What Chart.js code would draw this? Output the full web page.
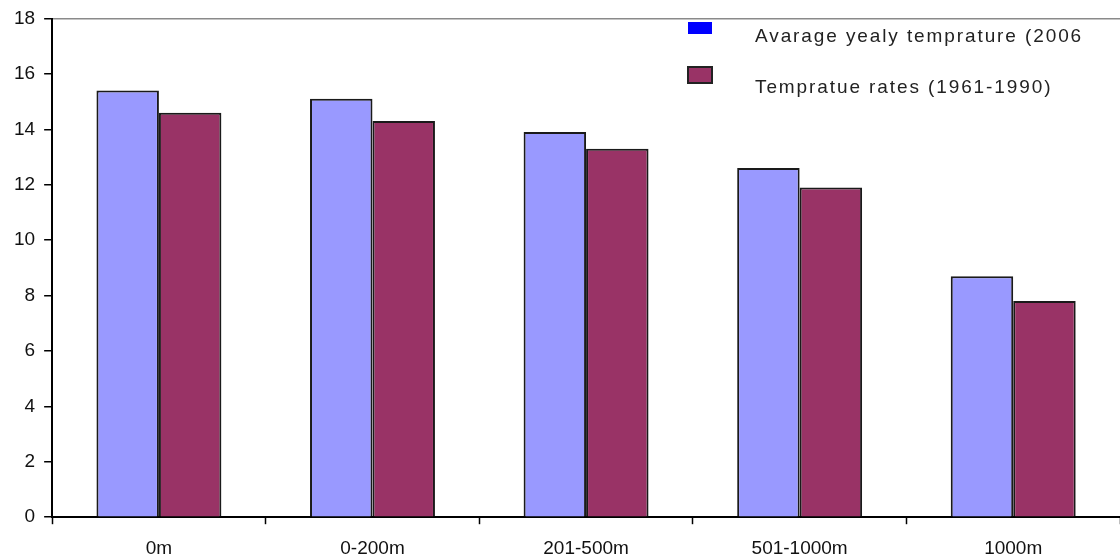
<!DOCTYPE html>
<html>
<head>
<meta charset="utf-8">
<script src="https://cdn.jsdelivr.net/npm/chart.js@4/dist/chart.umd.min.js"></script>
<style>
  html, body { margin: 0; padding: 0; background: #fff; }
  #wrap { width: 1120px; height: 558px; position: relative; }
</style>
</head>
<body>
<div id="wrap"><canvas id="chart"></canvas></div>
<script>
const categories = ["0m", "0-200m", "201-500m", "501-1000m", "1000m"];
const avg2006 = [15.4, 15.1, 13.9, 12.6, 8.7];
const rates6190 = [14.6, 14.3, 13.3, 11.9, 7.8];
const seriesLabels = ["Avarage yealy temprature (2006", "Tempratue rates (1961-1990)"];
const yMin = 0, yMax = 18, yStep = 2;

// legend in the top right, drawn by hand like the original (boxes left, text right)
const cornerLegend = {
  id: "cornerLegend",
  afterDraw(chart) {
    const ctx = chart.ctx;
    const items = [
      { fill: "#0000ff", stroke: null, boxTop: 22, boxH: 12, textY: 37 },
      { fill: "#993366", stroke: "#222", boxTop: 67, boxH: 16, textY: 88 }
    ];
    ctx.save();
    ctx.font = "19px 'Liberation Sans', Arial, sans-serif";
    ctx.letterSpacing = "1.9px";
    ctx.textBaseline = "middle";
    items.forEach((it, i) => {
      ctx.fillStyle = it.fill;
      ctx.fillRect(688, it.boxTop, 24, it.boxH);
      if (it.stroke) {
        ctx.strokeStyle = it.stroke;
        ctx.lineWidth = 2;
        ctx.strokeRect(688, it.boxTop, 24, it.boxH);
      }
      ctx.fillStyle = "#222";
      ctx.fillText(seriesLabels[i], 755, it.textY);
    });
    ctx.restore();
  }
};

new Chart(document.getElementById("chart"), {
  type: "bar",
  data: {
    labels: categories,
    datasets: [
      {
        label: seriesLabels[0],
        data: avg2006,
        backgroundColor: "#9999ff",
        borderColor: "#1a1a1a",
        borderWidth: 2,
        categoryPercentage: 0.585,
        barPercentage: 1.0
      },
      {
        label: seriesLabels[1],
        data: rates6190,
        backgroundColor: "#993366",
        borderColor: "#1a1a1a",
        borderWidth: 2,
        categoryPercentage: 0.585,
        barPercentage: 1.0
      }
    ]
  },
  options: {
    responsive: true,
    maintainAspectRatio: false,
    animation: false,
    layout: { padding: { left: 5, right: 0, top: 2, bottom: -15 } },
    plugins: {
      legend: { display: false },
      tooltip: { enabled: false }
    },
    scales: {
      x: {
        grid: {
          offset: true,
          drawOnChartArea: false,
          tickLength: 7,
          tickColor: "#000",
          tickWidth: 1.5
        },
        border: { color: "#000", width: 2 },
        ticks: {
          color: "#111",
          padding: 13,
          font: { family: "'Liberation Sans', Arial, sans-serif", size: 19 }
        }
      },
      y: {
        min: yMin,
        max: yMax,
        ticks: {
          stepSize: yStep,
          color: "#111",
          padding: 9,
          font: { family: "'Liberation Sans', Arial, sans-serif", size: 19, lineHeight: 1 }
        },
        grid: {
          color: (c) => (c.tick && c.tick.value === yMax ? "#8a8a8a" : "rgba(0,0,0,0)"),
          lineWidth: 1.5,
          tickLength: 8,
          tickColor: "#000",
          tickWidth: 1.5
        },
        border: { color: "#000", width: 2 }
      }
    }
  },
  plugins: [cornerLegend]
});
</script>
</body>
</html>
